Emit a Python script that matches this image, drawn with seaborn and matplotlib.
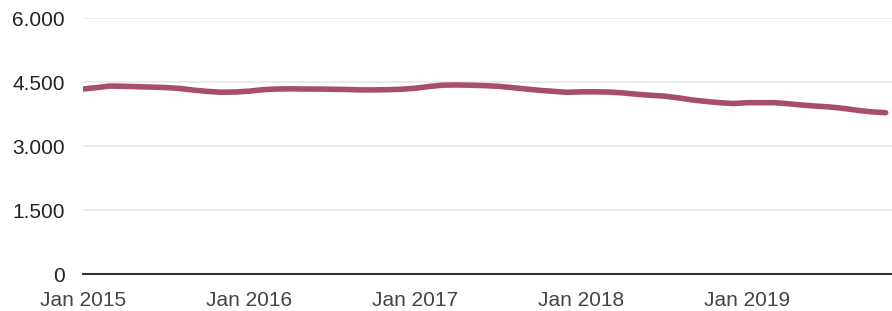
import pandas as pd
import numpy as np
import matplotlib
matplotlib.use("Agg")
import matplotlib.pyplot as plt
import matplotlib.dates as mdates
import matplotlib.ticker as mticker
import seaborn as sns

# Monthly values, Jan 2015 - Nov 2019
months = pd.date_range("2015-01-01", periods=59, freq="MS")
values = [
    4336, 4370, 4405, 4400, 4390, 4380, 4370, 4350, 4310, 4280, 4260, 4265,
    4285, 4320, 4335, 4340, 4335, 4335, 4330, 4325, 4315, 4315, 4320, 4330,
    4355, 4395, 4425, 4430, 4425, 4415, 4400, 4370, 4335, 4305, 4280, 4258,
    4270, 4270, 4265, 4245, 4215, 4190, 4170, 4130, 4080, 4045, 4015, 3995,
    4015, 4015, 4015, 3990, 3960, 3935, 3915, 3880, 3835, 3800, 3781,
]
y_ticks = [0, 1500, 3000, 4500, 6000]
x_tick_labels = ["Jan 2015", "Jan 2016", "Jan 2017", "Jan 2018", "Jan 2019"]

df = pd.DataFrame({"month": months, "value": values})

sns.set_style("white")
plt.rcParams['font.family'] = ['Liberation Sans', 'DejaVu Sans']

fig = plt.figure(figsize=(8.92, 3.11), dpi=100)
ax = fig.add_axes([83 / 892, 37 / 311, 809 / 892, 256 / 311])

sns.lineplot(data=df, x="month", y="value", ax=ax, color="#a84e6d",
             linewidth=4.0, solid_capstyle="round", solid_joinstyle="round")

ax.set_ylim(0, 6000)
ax.set_yticks(y_ticks)
ax.yaxis.set_major_formatter(mticker.FuncFormatter(lambda v, p: f"{int(v):,}".replace(",", ".")))

start = pd.Timestamp("2015-01-01")
ax.set_xlim(start, start + pd.Timedelta(days=809 / 166 * 365))
ax.set_xticks([pd.Timestamp(f"{y}-01-01") for y in range(2015, 2020)])
ax.set_xticklabels(x_tick_labels)

ax.grid(axis="y", color="#e6e6e6", linewidth=1.2)
ax.grid(axis="x", visible=False)
for s in ["top", "right", "left"]:
    ax.spines[s].set_visible(False)
ax.spines["bottom"].set_color("#333333")
ax.spines["bottom"].set_linewidth(1.5)

ax.tick_params(axis="y", length=0, pad=13, labelsize=15, labelcolor="#222222")
ax.tick_params(axis="x", length=0, pad=12, labelsize=15, labelcolor="#444444")
ax.set_xlabel("")
ax.set_ylabel("")

fig.savefig("out.png", dpi=100)
